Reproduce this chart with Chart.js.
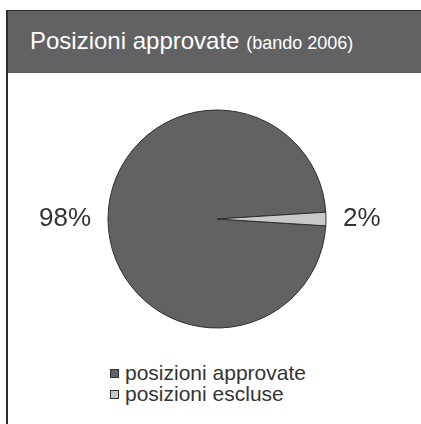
<!DOCTYPE html>
<html>
<head>
<meta charset="utf-8">
<script src="https://cdn.jsdelivr.net/npm/chart.js@4"></script>
<style>
  html, body { margin:0; padding:0; background:#fff; overflow:hidden; }
  body { width:421px; height:424px; position:relative; font-family:"Liberation Sans", Arial, sans-serif; }
  #frame {
    position:absolute; left:6px; top:10px; width:415px; height:414px;
    border-left:2px solid #2e2e2e; border-top:1px solid #2e2e2e;
  }
  #header {
    height:62px; background:#626265; color:#fff;
    box-sizing:border-box; padding:16px 0 0 22px;
    font-size:24px; white-space:nowrap;
  }
  #header small { font-size:18px; }
  #pieBox { position:absolute; left:13px; top:100px; width:408px; height:238px; }
  #legend { position:absolute; left:110px; top:362px; color:#333; font-size:21px; line-height:21px; }
  #legend div { white-space:nowrap; }
  #legend span.box {
    display:inline-block; width:7px; height:7px; border:1px solid #333;
    margin-right:6px; vertical-align:2px;
  }
</style>
</head>
<body>
<div id="frame">
  <div id="header">Posizioni approvate <small>(bando 2006)</small></div>
</div>
<div id="pieBox"><canvas id="pie"></canvas></div>
<div id="legend"></div>

<script>
// ===============================
// DATA
// ===============================

const categories = ["posizioni approvate", "posizioni escluse"];

const shares = [98, 2];

const sliceColors = ["#626265", "#c8c9cb"];

// small slice centred on 3 o'clock
const startRotation = 90 + shares[1] / 2 * 3.6;

// ===============================
// PERCENT LABELS OUTSIDE
// ===============================

const outsideLabels = {
    id: "outsideLabels",
    afterDatasetsDraw(chart){
        const ctx = chart.ctx;
        const meta = chart.getDatasetMeta(0);
        ctx.save();
        ctx.font = "26px 'Liberation Sans', Arial, sans-serif";
        ctx.fillStyle = "#333";
        ctx.textBaseline = "middle";
        meta.data.forEach((arc, i) => {
            const p = arc.getProps(["x","y","startAngle","endAngle","outerRadius"], true);
            const mid = (p.startAngle + p.endAngle) / 2;
            const r = p.outerRadius + 17;
            const cx = p.x + Math.cos(mid) * r;
            const cy = p.y + Math.sin(mid) * r;
            ctx.textAlign = Math.cos(mid) < 0 ? "right" : "left";
            ctx.fillText(shares[i] + "%", cx, cy);
        });
        ctx.restore();
    }
};

// ===============================
// CHART
// ===============================

const chart = new Chart(document.getElementById("pie"), {
    type: "pie",
    data: {
        labels: categories,
        datasets: [{
            data: shares,
            backgroundColor: sliceColors,
            borderColor: "#2e2e2e",
            borderWidth: 1
        }]
    },
    options: {
        responsive: true,
        maintainAspectRatio: false,
        animation: false,
        rotation: startRotation,
        radius: 109,
        layout: { padding: 0 },
        plugins: {
            legend: { display: false },
            tooltip: { enabled: false }
        }
    },
    plugins: [outsideLabels]
});

// ===============================
// LEGEND
// ===============================

const legend = document.getElementById("legend");
categories.forEach((name, i) => {
    const row = document.createElement("div");
    const box = document.createElement("span");
    box.className = "box";
    box.style.background = sliceColors[i];
    row.appendChild(box);
    row.appendChild(document.createTextNode(name));
    legend.appendChild(row);
});
</script>
</body>
</html>
